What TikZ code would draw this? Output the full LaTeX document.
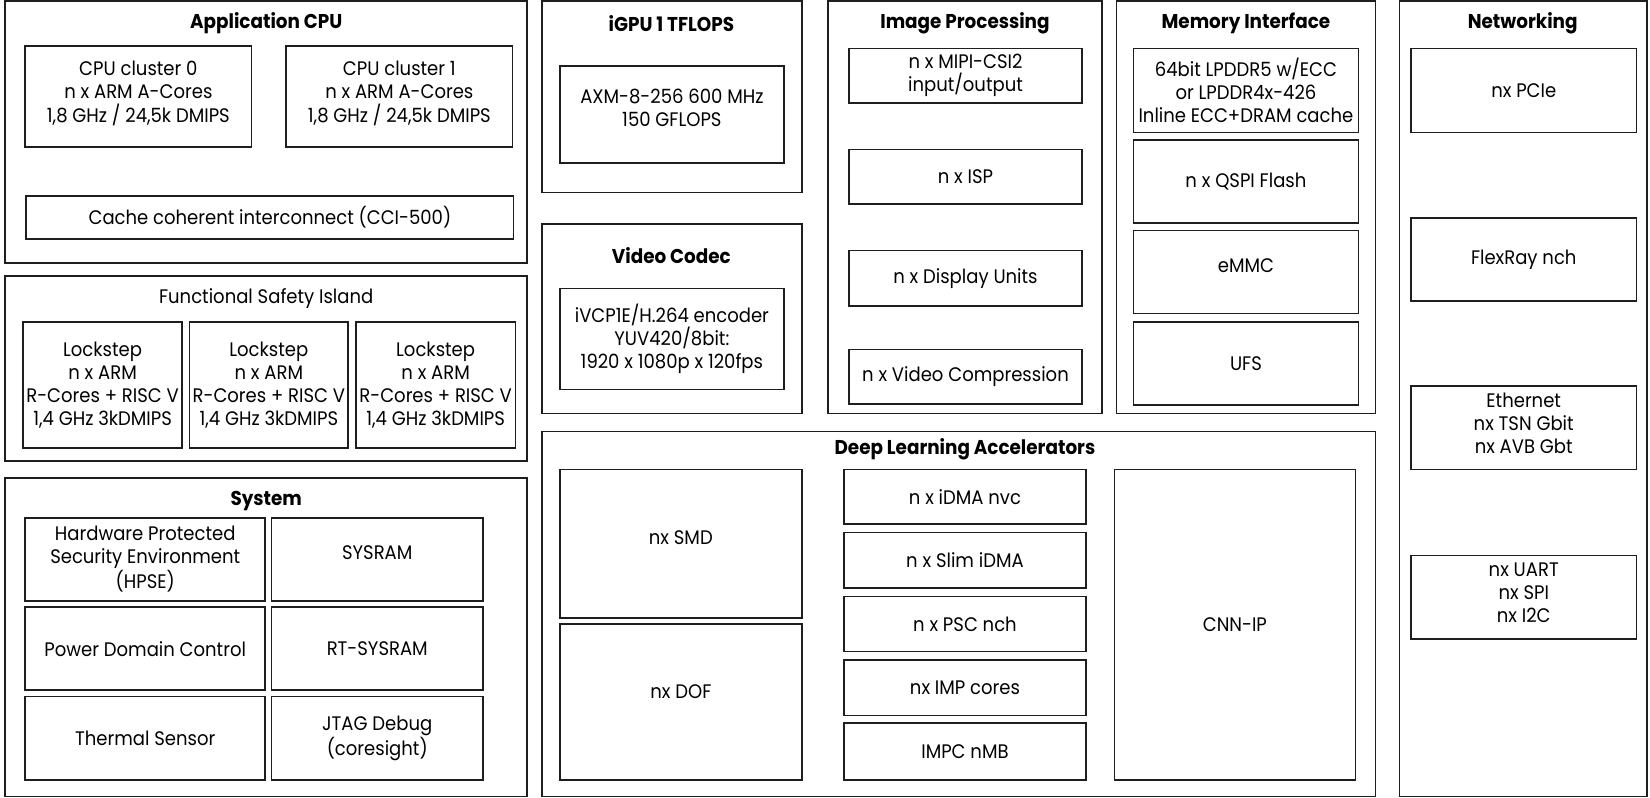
\documentclass[tikz,border=0pt]{standalone}
\usepackage{fontspec}
\setmainfont{Poppins}[FakeStretch=0.92]
\usetikzlibrary{fit}
\definecolor{blockline}{RGB}{30,30,30}
\tikzset{boxsize/.style 2 args={minimum width=#1*0.02cm, minimum height=#2*0.02cm}}

\begin{document}
\begin{tikzpicture}[x=0.02cm, y=-0.02cm,
    font=\fontsize{10.6}{12.5}\selectfont,
    group/.style={draw=blockline, line width=0.9pt, inner sep=0pt},
    unit/.style={draw=blockline, line width=0.9pt, inner sep=0pt, align=center},
    title/.style={font=\fontsize{10.8}{12.5}\selectfont\bfseries}]
    \useasboundingbox (0,0) rectangle (1568,758);

    % Application CPU
    \node[group, fit={(5,1) (501,250)}] (appcpu) {};
    \node[title] (appcputitle) at (253,22) {Application CPU};
    \node[unit, boxsize={215}{96}] (cluster0) at (131.5,92) {CPU cluster 0\\n x ARM A-Cores\\1,8 GHz / 24,5k DMIPS\\[-7pt]};
    \node[unit, boxsize={215}{96}] (cluster1) at (379.5,92) {CPU cluster 1\\n x ARM A-Cores\\1,8 GHz / 24,5k DMIPS\\[-7pt]};
    \node[unit, boxsize={463}{41}] (cci) at (256.5,206.5) {Cache coherent interconnect (CCI-500)};

    % Functional Safety Island
    \node[group, fit={(5,262) (501,438)}] (fsi) {};
    \node (fsititle) at (253,284) {Functional Safety Island};
    \node[unit, boxsize={151}{120}] (lock1) at (97.5,366) {Lockstep\\n x ARM\\R-Cores + RISC V\\1,4 GHz 3kDMIPS};
    \node[unit, boxsize={151}{120}] (lock2) at (255.5,366) {Lockstep\\n x ARM\\R-Cores + RISC V\\1,4 GHz 3kDMIPS};
    \node[unit, boxsize={152}{120}] (lock3) at (414,366) {Lockstep\\n x ARM\\R-Cores + RISC V\\1,4 GHz 3kDMIPS};

    % System
    \node[group, fit={(5,454) (501,757)}] (system) {};
    \node[title] (systemtitle) at (253,476) {System};
    \node[unit, boxsize={228}{79}] (hpse) at (138,531.5) {Hardware Protected\\Security Environment\\(HPSE)};
    \node[unit, boxsize={201}{79}, text depth=6.8pt] (sysram) at (358.5,531.5) {SYSRAM};
    \node[unit, boxsize={228}{79}] (power) at (138,616.5) {Power Domain Control};
    \node[unit, boxsize={201}{79}] (rtsysram) at (358.5,616.5) {RT-SYSRAM};
    \node[unit, boxsize={228}{79}] (thermal) at (138,701.5) {Thermal Sensor};
    \node[unit, boxsize={201}{79}] (jtag) at (358.5,701.5) {JTAG Debug\\(coresight)};

    % iGPU
    \node[group, fit={(515,1) (762,183)}] (igpu) {};
    \node[title] (igputitle) at (638,22) {iGPU 1 TFLOPS};
    \node[unit, boxsize={213}{92}] (axm) at (638.5,109) {AXM-8-256 600 MHz\\150 GFLOPS\\[-5pt]};

    % Video Codec
    \node[group, fit={(515,213) (762,393)}] (codec) {};
    \node[title] (codectitle) at (638,243) {Video Codec};
    \node[unit, boxsize={213}{96}] (ivcp) at (638.5,322) {iVCP1E/H.264 encoder\\YUV420/8bit:\\1920 x 1080p x 120fps};

    % Image Processing
    \node[group, fit={(787,1) (1047,393)}] (imgproc) {};
    \node[title] (imgproctitle) at (917,22) {Image Processing};
    \node[unit, boxsize={221}{52}] (mipi) at (917.5,72) {n x MIPI-CSI2\\input/output};
    \node[unit, boxsize={221}{52}] (isp) at (917.5,168) {n x ISP};
    \node[unit, boxsize={221}{53}] (display) at (917.5,264.5) {n x Display Units};
    \node[unit, boxsize={221}{52}] (vcomp) at (917.5,358) {n x Video Compression};

    % Memory Interface
    \node[group, fit={(1061,1) (1307,393)}] (memory) {};
    \node[title] (memorytitle) at (1184,22) {Memory Interface};
    \node[unit, boxsize={214}{80}] (lpddr) at (1184,86) {64bit LPDDR5 w/ECC\\or LPDDR4x-426\\Inline ECC+DRAM cache};
    \node[unit, boxsize={214}{79}] (qspi) at (1184,172.5) {n x QSPI Flash};
    \node[unit, boxsize={214}{79}, text depth=6.8pt] (emmc) at (1184,258.5) {eMMC};
    \node[unit, boxsize={214}{79}] (ufs) at (1184,345.5) {UFS};

    % Networking
    \node[group, fit={(1330,1) (1565,757)}] (network) {};
    \node[title] (networktitle) at (1447,22) {Networking};
    \node[unit, boxsize={214}{80}] (pcie) at (1448,86) {nx PCIe};
    \node[unit, boxsize={214}{79}] (flexray) at (1448,246.5) {FlexRay nch};
    \node[unit, boxsize={214}{79}] (ethernet) at (1448,406.5) {Ethernet\\nx TSN Gbit\\nx AVB Gbt\\[-8pt]};
    \node[unit, boxsize={214}{79}] (uart) at (1448,567.5) {nx UART\\nx SPI\\nx I2C\\[-8pt]};

    % Deep Learning Accelerators
    \node[group, fit={(515,410) (1307,757)}] (dla) {};
    \node[title] (dlatitle) at (917,427) {Deep Learning Accelerators};
    \node[unit, boxsize={230}{141}, text depth=6.8pt] (smd) at (647,516.5) {nx SMD};
    \node[unit, boxsize={230}{148}, text depth=11pt] (dof) at (647,667) {nx DOF};
    \node[unit, boxsize={230}{52}] (idma) at (917,472) {n x iDMA nvc};
    \node[unit, boxsize={230}{53}] (slim) at (917,532.5) {n x Slim iDMA};
    \node[unit, boxsize={230}{52}] (psc) at (917,593) {n x PSC nch};
    \node[unit, boxsize={230}{53}] (imp) at (917,653.5) {nx IMP cores};
    \node[unit, boxsize={230}{54}] (impc) at (917,714) {IMPC nMB};
    \node[unit, boxsize={229}{295}] (cnn) at (1173.5,593.5) {CNN-IP};
\end{tikzpicture}
\end{document}
